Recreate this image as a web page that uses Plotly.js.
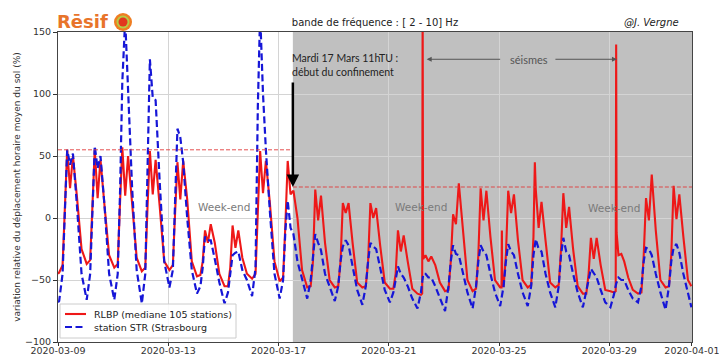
<!DOCTYPE html>
<html><head><meta charset="utf-8">
<script src="https://cdn.plot.ly/plotly-3.0.1.min.js"></script>
<style>html,body{margin:0;padding:0;background:#fff;} #chart{width:719px;height:356px;}</style>
</head><body><div id="chart"></div>
<script>
// Sampling hours (UTC) used for each day's readings
const sampleHours = [1, 4, 6, 8, 10.5, 13, 16.5, 20.5];

// RLBP (median 105 stations), one row per day from 2020-03-09 to 2020-03-31
const rlbpDaily = [
  [-44, -38, 15, 55, 24, 50, 17, -25],
  [-37, -34, 10, 55, 16, 47, 10, -30],
  [-40, -37, 12, 57, 18, 50, 12, -32],
  [-43, -40, 10, 54, 19, 47, 10, -35],
  [-42, -38, 5, 45, 15, 46, 15, -35],
  [-47, -46, -35, -10, -20, -5, -20, -45],
  [-55, -55, -40, -6, -24, -10, -32, -45],
  [-49, -45, 5, 54, 20, 46, 12, -35],
  [-51, -48, -5, 46, 19, 22, 0, -42],
  [-56, -55, -35, 23, -2, 18, -20, -50],
  [-56, -55, -35, 12, 4, 12, -20, -52],
  [-56, -55, -35, 12, 0, 8, -22, -52],
  [-57, -57, -45, -10, -27, -14, -35, -57],
  [-61, -62, -33, -30, -35, -31, -38, -52],
  [-59, -58, -35, 3, -5, 28, -10, -50],
  [-59, -57, -30, 24, -2, 22, -15, -50],
  [-56, -55, -30, 22, 4, 19, -18, -50],
  [-56, -54, -15, 23, -8, 13, -18, -52],
  [-56, -54, -25, 20, -8, 9, -25, -55],
  [-61, -61, -45, -16, -33, -16, -38, -58],
  [-59, -60, 140, -30, -29, -35, -48, -58],
  [-61, -60, -30, 16, -2, 35, -10, -50],
  [-56, -55, -30, 26, -1, 19, -15, -50]
];
// Extra RLBP readings (earthquake spikes, start/end)
const rlbpExtraDay   = [0, 13, 13, 13, 16, 16, 16, 17, 20, 20, 22];
const rlbpExtraHour  = [0, 5.1, 5.5, 5.9, 2.2, 2.5, 2.8, 7.2, 5.6, 6.4, 23.5];
const rlbpExtraValue = [-45, -61, 175, -30, -56, -10, -55, 45, -59, -12, -55];

// Station STR (Strasbourg)
const strDaily = [
  [-67, -45, 5, 55, 43, 52, 10, -45],
  [-66, -45, 5, 58, 40, 50, 10, -45],
  [-66, -45, 20, 110, 160, 100, 25, -42],
  [-69, -45, 30, 128, 97, 95, 30, -35],
  [-56, -42, 15, 72, 65, 45, 0, -42],
  [-61, -55, -40, -15, -18, -18, -33, -52],
  [-69, -60, -45, -30, -28, -27, -42, -50],
  [-63, -40, 90, 165, 100, 55, 5, -45],
  [-65, -50, -10, 14, -8, -13, -35, -50],
  [-65, -50, -30, -13, -20, -26, -45, -55],
  [-67, -55, -35, -23, -18, -22, -40, -58],
  [-70, -55, -35, -20, -23, -25, -40, -58],
  [-68, -60, -50, -39, -45, -48, -55, -65],
  [-73, -60, -45, -45, -48, -48, -55, -65],
  [-75, -55, -35, -22, -29, -30, -45, -60],
  [-73, -55, -35, -22, -27, -30, -45, -60],
  [-71, -55, -35, -21, -27, -30, -45, -60],
  [-71, -55, -30, -17, -25, -27, -45, -60],
  [-72, -55, -30, -16, -27, -30, -45, -60],
  [-72, -60, -50, -41, -45, -48, -58, -68],
  [-72, -62, -53, -48, -50, -50, -58, -65],
  [-68, -55, -35, -24, -25, -30, -45, -60],
  [-74, -55, -35, -24, -21, -28, -45, -62]
];
const strExtraDay   = [0, 22];
const strExtraHour  = [0, 23.5];
const strExtraValue = [-68, -72];

const seriesNames = ['RLBP (mediane 105 stations)', 'station STR (Strasbourg'];
const seriesColors = ['rgb(238,24,24)', 'rgb(22,22,215)'];
const tickDates = ['2020-03-09','2020-03-13','2020-03-17','2020-03-21','2020-03-25','2020-03-29','2020-04-01'];
const yTicks = [-100, -50, 0, 50, 100, 150];
const preLockdownLevel = 55;
const postLockdownLevel = 25;
const lockdownStart = '2020-03-17 12:30';

const DAY = 86400000, HOUR = 3600000;
const t0 = Date.UTC(2020, 2, 9);
function buildSeries(daily, exDay, exHour, exVal) {
  const pts = [];
  daily.forEach((row, d) => row.forEach((v, k) => pts.push([t0 + d * DAY + sampleHours[k] * HOUR, v])));
  exDay.forEach((d, i) => pts.push([t0 + d * DAY + exHour[i] * HOUR, exVal[i]]));
  pts.sort((a, b) => a[0] - b[0]);
  return {
    x: pts.map(p => new Date(p[0]).toISOString().replace('T', ' ').slice(0, 19)),
    y: pts.map(p => p[1])
  };
}
const rlbp = buildSeries(rlbpDaily, rlbpExtraDay, rlbpExtraHour, rlbpExtraValue);
const str = buildSeries(strDaily, strExtraDay, strExtraHour, strExtraValue);

const blueDash = '7px,3.5px';
const traces = [
  {x: rlbp.x, y: rlbp.y, type: 'scatter', mode: 'lines', name: seriesNames[0],
   line: {color: seriesColors[0], width: 2.1}},
  {x: str.x, y: str.y, type: 'scatter', mode: 'lines', name: seriesNames[1],
   line: {color: seriesColors[1], width: 2.2, dash: blueDash}}
];

const px2paperX = px => (px - 58) / 634;
const px2paperY = py => (342 - py) / 310;

function logoCircle(r, color) {
  return {type: 'circle', xref: 'paper', yref: 'paper', xsizemode: 'pixel', ysizemode: 'pixel',
    xanchor: px2paperX(123), yanchor: px2paperY(22), x0: -r, x1: r, y0: -r, y1: r,
    fillcolor: color, line: {width: 0}, layer: 'above'};
}

const layout = {
  width: 719, height: 356,
  margin: {l: 58, r: 27, t: 32, b: 14, pad: 0},
  paper_bgcolor: '#ffffff', plot_bgcolor: '#ffffff',
  font: {family: 'DejaVu Sans', size: 9.5, color: '#333'},
  title: {text: 'bande de fréquence : [ 2 - 10] Hz', font: {family: 'DejaVu Sans', size: 10, color: '#222'},
    x: 0.5, xref: 'paper', y: 1 - 22 / 356, yref: 'container', yanchor: 'middle'},
  showlegend: false,
  xaxis: {type: 'date', range: ['2020-03-09', '2020-04-01 00:02'], tickvals: tickDates, ticktext: tickDates,
    ticks: 'outside', ticklen: 3, tickcolor: '#333', showgrid: true, gridcolor: '#d4d4d4', gridwidth: 1,
    showline: true, linecolor: '#444', linewidth: 1, mirror: true, zeroline: false,
    ticklabelstandoff: -3, ticklabeloverflow: 'allow', tickfont: {size: 9.5, color: '#333'}},
  yaxis: {range: [-100, 150], tickvals: yTicks, ticks: 'outside', ticklen: 4, tickcolor: '#333',
    showgrid: true, gridcolor: '#d4d4d4', gridwidth: 1, showline: true, mirror: true, linecolor: '#444',
    linewidth: 1, zeroline: false, tickfont: {size: 9.5, color: '#333'},
    title: {text: 'variation relative du déplacement horaire moyen du sol (%)', font: {size: 9, color: '#333'}, standoff: 2}},
  shapes: [
    {type: 'rect', xref: 'x', yref: 'paper', x0: lockdownStart, x1: '2020-04-01 00:02', y0: 0, y1: 1,
     fillcolor: '#c0c0c0', line: {width: 0}, layer: 'below'},
    {type: 'line', xref: 'x', yref: 'y', x0: '2020-03-09', x1: lockdownStart, y0: preLockdownLevel, y1: preLockdownLevel,
     line: {color: 'rgba(225,60,60,0.9)', width: 1, dash: '4px,2px'}, layer: 'above'},
    {type: 'line', xref: 'x', yref: 'y', x0: lockdownStart, x1: '2020-04-01 00:02', y0: postLockdownLevel, y1: postLockdownLevel,
     line: {color: 'rgba(225,60,60,0.9)', width: 1, dash: '4px,2px'}, layer: 'above'},
    logoCircle(9, '#ef7d22'),
    logoCircle(6.5, '#b5cc45'),
    logoCircle(4.5, '#e2361e'),
    // legend box and samples
    {type: 'rect', xref: 'paper', yref: 'paper', x0: px2paperX(60), x1: px2paperX(236), y0: px2paperY(338), y1: px2paperY(304),
     fillcolor: 'rgba(255,255,255,0.85)', line: {color: '#cccccc', width: 1}, layer: 'above'},
    {type: 'line', xref: 'paper', yref: 'paper', x0: px2paperX(65), x1: px2paperX(86), y0: px2paperY(314), y1: px2paperY(314),
     line: {color: seriesColors[0], width: 2.1}, layer: 'above'},
    {type: 'line', xref: 'paper', yref: 'paper', x0: px2paperX(65), x1: px2paperX(86), y0: px2paperY(327), y1: px2paperY(327),
     line: {color: seriesColors[1], width: 2.2, dash: blueDash}, layer: 'above'}
  ],
  annotations: [
    {xref: 'paper', yref: 'paper', x: px2paperX(92), y: px2paperY(314), xanchor: 'left', yanchor: 'middle',
     text: seriesNames[0], showarrow: false, font: {family: 'DejaVu Sans', size: 9.5, color: '#222'}},
    {xref: 'paper', yref: 'paper', x: px2paperX(92), y: px2paperY(327), xanchor: 'left', yanchor: 'middle',
     text: seriesNames[1], showarrow: false, font: {family: 'DejaVu Sans', size: 9.5, color: '#222'}},
    {xref: 'paper', yref: 'paper', x: px2paperX(55), y: px2paperY(21), xanchor: 'left', yanchor: 'middle',
     text: '<b>Rēsif</b>', showarrow: false, font: {family: 'DejaVu Sans', size: 18, color: '#e8742a'}},
    {xref: 'paper', yref: 'paper', x: px2paperX(681), y: px2paperY(22), xanchor: 'right', yanchor: 'middle',
     text: '<i>@J. Vergne</i>', showarrow: false, font: {family: 'DejaVu Sans', size: 10, color: '#222'}},
    {xref: 'x', yref: 'y', x: '2020-03-17 10:00', y: 123, xanchor: 'left', yanchor: 'middle', align: 'left',
     text: 'Mardi 17 Mars 11hTU :<br>début du confinement', showarrow: false,
     font: {family: 'Lato', size: 10.5, color: '#222'}},
    {xref: 'x', yref: 'y', x: lockdownStart, y: postLockdownLevel, ax: 0, ay: -106, text: '', showarrow: true,
     arrowhead: 2, arrowsize: 1, arrowwidth: 2.5, arrowcolor: '#000'},
    {xref: 'x', yref: 'y', x: '2020-03-26 02:00', y: 128, text: 'séismes', showarrow: false,
     font: {family: 'Lato', size: 11, color: '#555'}},
    {xref: 'x', yref: 'y', x: '2020-03-22 09:00', y: 128, ax: 75, ay: 0, text: '', showarrow: true,
     arrowhead: 2, arrowsize: 1, arrowwidth: 1, arrowcolor: '#555'},
    {xref: 'x', yref: 'y', x: '2020-03-29 06:40', y: 128, ax: -63, ay: 0, text: '', showarrow: true,
     arrowhead: 2, arrowsize: 1, arrowwidth: 1, arrowcolor: '#555'},
    {xref: 'x', yref: 'y', x: '2020-03-15 00:30', y: 9, text: 'Week-end', showarrow: false,
     font: {family: 'DejaVu Sans', size: 10.5, color: '#7a7a7a'}},
    {xref: 'x', yref: 'y', x: '2020-03-22 04:00', y: 9, text: 'Week-end', showarrow: false,
     font: {family: 'DejaVu Sans', size: 10.5, color: '#7a7a7a'}},
    {xref: 'x', yref: 'y', x: '2020-03-29 04:00', y: 8, text: 'Week-end', showarrow: false,
     font: {family: 'DejaVu Sans', size: 10.5, color: '#7a7a7a'}}
  ]
};

Plotly.newPlot('chart', traces, layout, {displayModeBar: false, staticPlot: true});
</script>
</body></html>
